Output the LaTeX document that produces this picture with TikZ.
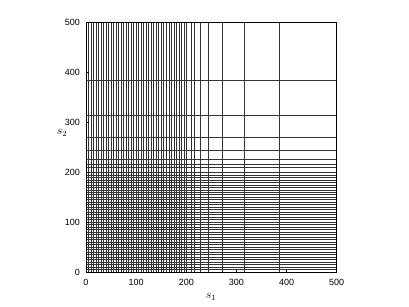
\documentclass[tikz,border=0pt]{standalone}
\usepackage{fontspec}
\newfontfamily\ticksf{Liberation Sans}

\begin{document}
\begin{tikzpicture}[
  x=1pt,y=1pt,
  gridline/.style={line width=.45pt,draw=black!80},
  frame/.style={line width=.6pt,draw=black},
  tickmark/.style={line width=.5pt,draw=black},
  ticklabel/.style={font=\ticksf\small,inner sep=0pt},
  axislabel/.style={font=\large,inner sep=0pt}]
\useasboundingbox (0,0) rectangle (409,306);
\begin{scope}[shift={(86,34)},x=0.5014pt,y=0.4986pt]
% even part of the grid, 0 to 200
\foreach \v in {0,5,...,200}{
  \draw[gridline] (\v,0) -- (\v,500);
  \draw[gridline] (0,\v) -- (500,\v);
}
% lines that close in on 200
\foreach \k in {0,...,7}{
  \pgfmathsetmacro\v{200+300*0.618034^\k}
  \draw[gridline] (\v,0) -- (\v,500);
  \draw[gridline] (0,\v) -- (500,\v);
}
\draw[frame] (0,0) rectangle (500,500);
% ticks and their labels
\foreach \t in {0,100,...,500}{
  \draw[tickmark] (\t,0) -- ++(0,5);
  \draw[tickmark] (0,\t) -- ++(5,0);
  \node[ticklabel,anchor=north] (xt\t) at ([yshift=-7pt]\t,0) {\t};
  \node[ticklabel,anchor=east] (yt\t) at ([xshift=-6pt]0,\t) {\t};
}
\end{scope}
\node[axislabel] (s1) at (211,9) {$s_1$};
\node[axislabel] (s2) at (62,173) {$s_2$};
\end{tikzpicture}
\end{document}
